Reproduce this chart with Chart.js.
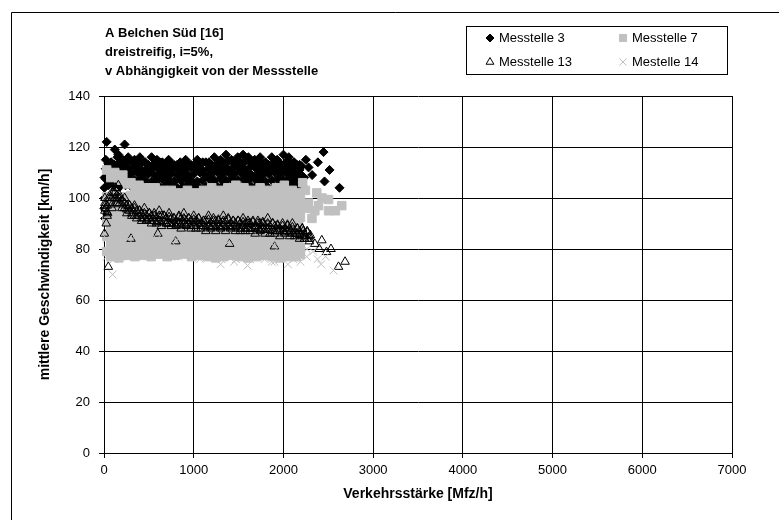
<!DOCTYPE html>
<html>
<head>
<meta charset="utf-8">
<script src="https://cdn.jsdelivr.net/npm/chart.js@4/dist/chart.umd.min.js"></script>
<style>
  html, body { margin: 0; padding: 0; background: #fff; }
  #wrap { position: relative; width: 779px; height: 520px; }
</style>
</head>
<body>
<div id="wrap"><canvas id="chart" width="779" height="520"></canvas></div>
<script>
// tick values
var xTicks = [0, 1000, 2000, 3000, 4000, 5000, 6000, 7000];
var yTicks = [0, 20, 40, 60, 80, 100, 120, 140];

var titleLines = ['A Belchen Süd [16]', 'dreistreifig, i=5%,', 'v Abhängigkeit von der Messstelle'];
var seriesNames = ['Messtelle 3', 'Messtelle 7', 'Messtelle 13', 'Mestelle 14'];

// Messstelle 3 (black diamonds), dense band ~103..117
var m3ColsA = [20,80,150,210,270,340,400,460,530,590,650,720,780,850,910,970,1040,1100,1170,1230,1300,1360,1420,1490,1550,1610,1680,1740,1800,1870,1930,2000,2060,2120,2180];
var m3ColsB = [50,115,180,240,305,370,430,495,560,620,685,750,815,880,940,1005,1070,1135,1200,1265,1330,1390,1455,1520,1580,1645,1710,1770,1835,1900,1965,2030,2090,2150,2200];
var m3RowsA = [
  [115,114,116,115,116,115,116,114,116,115,114,115,113,114,115,113,115,114,114,116,115,117,115,116,117,116,115,116,114,116,115,117,116,114,113],
  [111.5,111.5,112,111.5,111.5,112,111.5,111,111.5,112,111.5,111,111.5,111,111.5,112,111.5,111,111.5,112,111.5,112,111.5,112,112,111.5,112,111.5,111,112,111.5,112,111.5,111,111],
  [107.5,107,107.5,107,107.5,107,107.5,107,106.5,107,107.5,107,106.5,107,107.5,107,106.5,107,107.5,107,107.5,107,107.5,107,107.5,107,107.5,107,106.5,107,107.5,107,107.5,107,107.5]
];
var m3RowsB = [
  [113.5,113,114,113.5,114,113.5,114,113,113.5,114,113,113.5,113,113.5,113.5,113,113.5,114,113,113.5,114,114.5,113.5,114,114.5,113.5,114,113.5,113,114,113.5,114,113.5,113,112.5],
  [109.5,109,109.5,109,109.5,110,109,109.5,109,109.5,109,109.5,109,109.5,109,109.5,110,109,109.5,110,109.5,110,109.5,110,109.5,109,109.5,109,109.5,110,109.5,110,109.5,109,109],
  [105,105,104.5,105,104.5,105,104.5,105,104,104.5,105,104.5,104,104.5,105,104.5,104,104.5,105,104.5,105,104.5,105,104.5,105,104.5,105,104.5,104,104.5,105,104.5,105,104.5,105]
];
var m3ExtraX = [5,8,3,12,6,30,230,160,120,2250,2280,2384,2447,2514,2458,2625,2320,2230];
var m3ExtraY = [104,100,96,92,108,122,121,117,119,115,112,114,118,111,106.5,104,109,108];

// Messstelle 7 (grey squares), solid cloud ~77..112
var m7ColsA = [30,120,210,300,390,480,570,660,750,840,930,1020,1110,1200,1290,1380,1470,1560,1650,1740,1830,1920,2010,2100,2170];
var m7ColsB = [75,165,255,345,435,525,615,705,795,885,975,1065,1155,1245,1335,1425,1515,1605,1695,1785,1875,1965,2055,2145,2190];
var m7RowsA = [
  [111,110,109,106,105,104,104,103,103,102,103,102,103,104,103,104,105,104,103,104,103,104,105,103,102],
  [100.5,101,100.5,101,100.5,101,100.5,100,100.5,100,100,100,100,100.5,100.5,101,100.5,101,100.5,101,100.5,101,100.5,100,99.5],
  [97,97,96.5,97,96.5,97,96.5,97,96.5,97,96.5,97,96.5,97,96.5,97,96.5,97,96.5,97,96.5,96.5,96,96,95.5],
  [91,91,90.5,91,90.5,91,90.5,91,90.5,91,90.5,91,90.5,91,90.5,91,90.5,91,90.5,91,90.5,90.5,90,90,89.5],
  [85,85,84.5,85,84.5,85,84.5,85,84.5,85,84.5,85,84.5,85,84.5,85,84.5,85,84.5,85,84.5,84.5,84,84,83.5],
  [79,79,79.5,79,79.5,79,79.5,79,79.5,79,79.5,79,79.5,79,79.5,79,79.5,79,79.5,79,79.5,79,79,79,79]
];
var m7RowsB = [
  [108,107,105.5,103.5,103,102.5,102.5,102,101.5,101,101.5,101,101.5,102,101.5,102,102.5,102,101.5,102,101.5,102,102.5,101.5,101],
  [99,99,98.5,99,98.5,99,98.5,99,98.5,98.5,98.5,98.5,98.5,99,98.5,99,98.5,99,98.5,99,98.5,99,98.5,98,97.5],
  [94,94,93.5,94,93.5,94,93.5,94,93.5,94,93.5,94,93.5,94,93.5,94,93.5,94,93.5,94,93.5,93.5,93,93,92.5],
  [88,88,87.5,88,87.5,88,87.5,88,87.5,88,87.5,88,87.5,88,87.5,88,87.5,88,87.5,88,87.5,87.5,87,87,86.5],
  [82,82,81.5,82,81.5,82,81.5,82,81.5,82,81.5,82,81.5,82,81.5,82,81.5,82,81.5,82,81.5,81.5,81,81,80.5],
  [77,76.5,77.5,77,77.5,77,78,77,77.5,78,77,77.5,77,76.5,77,77.5,77,76.5,77,77.5,77,76.5,77,77,78]
];
var m7TailX = [2245,2318,2372,2392,2503,2503,2650,2280,2350,2430,2580,2250,2215];
var m7TailY = [103,92,102,97,99.4,95,97,98,95,100,95,96,106];

// Messstelle 13 (triangles), dark band falling from ~101 to ~85
var m13ColsA = [10,65,120,175,230,285,340,395,450,505,560,615,670,725,780,835,890,945,1000,1055,1110,1165,1220,1275,1330,1385,1440,1495,1550,1605,1660,1715,1770,1825,1880,1935,1990,2045,2100,2155,2210,2265];
var m13ColsB = [35,90,145,200,255,310,365,420,475,530,585,640,695,750,805,860,915,970,1025,1080,1135,1190,1245,1300,1355,1410,1465,1520,1575,1630,1685,1740,1795,1850,1905,1960,2015,2070,2125,2180,2235,2290];
var m13RowsA = [
  [98,101,104,101,100,97,97,95,96,94,94,95,93,94,92,93,94,92,93,92,91,93,92,91,93,92,91,91,92,90,91,91,90,92,90,89,90,89,90,88,88,87],
  [97,100,102,100,98,97,96,95,94,94,93,93,93,92.5,92,92.5,92,92,91.5,92,91,91.5,91,91.5,91,91.5,91,91,90.5,91,90.5,90,90.5,90,90,89.5,89,89.5,88.5,88,88,86.5],
  [95,98,100,98,96,95,93,93,92,92,91,91,91,90,90,90,90,90,89,90,89,89,89,89,89,89,89,88,89,88,88,88,88,88,87,87,87,87,86,86,85,84]
];
var m13RowsB = [
  [97,100,101,99,97,96,95,94,93,93,92,93,92,92,91,92,91,91,91,90,91,90,91,90,91,90,90,90,90,90,89,90,89,89,89,88,88,88,87,87,86,85],
  [94.5,97.5,99.5,97.5,95.5,94,93,92,91.5,91,90.5,90.5,90,90,89.5,89.5,89.5,89,89,89,88.5,88.5,88.5,88.5,88.5,88.5,88.5,88,88,88,88,87.5,87.5,87.5,87,87,86.5,86.5,86,85.5,85,84],
  [93,96,98,96,94,93,92,91,91,90,90,89,90,89,89,88,89,88,88,88,87,88,87,88,87,88,87,87,87,87,86,87,86,86,86,85,86,85,85,84,84,83]
];
var m13ExtraX = [130,160,100,10,15,25,5,40,300,800,1400,1900,600,2300,2220,2428,2480,2614,2687,48,2350,2400,2530];
var m13ExtraY = [104,105,102,100,96,90,86,94,84,83,82,81,86,85.4,87,83.4,78.8,73,75,73,82,80,80];

// Mestelle 14 (grey crosses), lower edge of the cloud
var m14Cols = [30,110,190,270,350,430,510,590,670,750,830,910,990,1070,1150,1230,1310,1390,1470,1550,1630,1710,1790,1870,1950,2030,2110,2190,2260];
var m14Low = [77,76,78,77,79,78,79,78,79,78,77,78,77,76,77,78,76,77,76,77,76,77,76,75,76,77,76,75,77];
var m14High = [84,83,85,84,85,84,83,84,85,83,84,83,84,83,84,83,82,83,84,82,83,82,83,82,81,82,81,80,80];
var m14ExtraX = [96,2558,2470,2380,2330,2420,1300,1600,2050,1900,1450,700];
var m14ExtraY = [70,71.6,77,76,79,74,74,73.5,74,75,75,77];

function pts(xs, ys) {
  return xs.map(function (x, i) { return { x: x, y: ys[i] }; });
}
function gridPts(colsA, rowsA, colsB, rowsB, exX, exY) {
  var out = [];
  rowsA.forEach(function (r) { out = out.concat(pts(colsA, r)); });
  rowsB.forEach(function (r) { out = out.concat(pts(colsB, r)); });
  return out.concat(pts(exX, exY));
}

var m3Points = gridPts(m3ColsA, m3RowsA, m3ColsB, m3RowsB, m3ExtraX, m3ExtraY);
var m7Points = gridPts(m7ColsA, m7RowsA, m7ColsB, m7RowsB, m7TailX, m7TailY);
var m13Points = gridPts(m13ColsA, m13RowsA, m13ColsB, m13RowsB, m13ExtraX, m13ExtraY);
var m14Points = gridPts(m14Cols, [m14Low, m14High], [], [], m14ExtraX, m14ExtraY);

var GREY = '#c0c0c0';
var FONT = '"Liberation Sans", Arial, sans-serif';

// title, legend box and outer frame, drawn straight on the canvas
var decor = {
  id: 'decor',
  beforeDraw: function (chart) {
    var ctx = chart.ctx;
    ctx.save();
    ctx.fillStyle = '#fff';
    ctx.fillRect(0, 0, chart.width, chart.height);
    ctx.restore();
  },
  afterDraw: function (chart) {
    var ctx = chart.ctx;
    ctx.save();
    // outer frame (runs off the right and bottom edge)
    ctx.strokeStyle = '#000';
    ctx.lineWidth = 1;
    ctx.beginPath();
    ctx.moveTo(11.5, chart.height);
    ctx.lineTo(11.5, 12.5);
    ctx.lineTo(chart.width, 12.5);
    ctx.stroke();

    // title
    ctx.fillStyle = '#000';
    ctx.font = 'bold 13px ' + FONT;
    ctx.textBaseline = 'middle';
    ctx.textAlign = 'left';
    titleLines.forEach(function (t, i) {
      ctx.fillText(t, 105, 33 + i * 19);
    });

    // legend box
    ctx.fillStyle = '#fff';
    ctx.fillRect(466.5, 26.5, 261, 48);
    ctx.strokeStyle = '#000';
    ctx.strokeRect(466.5, 26.5, 261, 48);
    ctx.font = '13px ' + FONT;
    var spots = [[490, 38], [623, 38], [490, 62], [623, 62]];
    chart.data.datasets.forEach(function (ds, i) {
      var p = spots[i];
      ctx.fillStyle = ds.backgroundColor;
      ctx.strokeStyle = ds.borderColor;
      ctx.lineWidth = 1;
      Chart.helpers.drawPoint(ctx, {
        pointStyle: ds.pointStyle,
        radius: ds.legendRadius,
        rotation: 0,
        borderWidth: 1
      }, p[0], p[1]);
      ctx.fillStyle = '#000';
      ctx.fillText(ds.label, p[0] + 9, p[1]);
    });
    ctx.restore();
  }
};

var ctx = document.getElementById('chart').getContext('2d');
new Chart(ctx, {
  type: 'scatter',
  data: {
    datasets: [
      {
        label: seriesNames[0], data: m3Points, order: 4,
        pointStyle: 'rectRot', pointRadius: 4.5, legendRadius: 4,
        backgroundColor: '#000', borderColor: '#000', borderWidth: 1, clip: false
      },
      {
        label: seriesNames[1], data: m7Points, order: 3,
        pointStyle: 'rect', pointRadius: 6, legendRadius: 5,
        backgroundColor: GREY, borderColor: GREY, borderWidth: 1, clip: false
      },
      {
        label: seriesNames[2], data: m13Points, order: 2,
        pointStyle: 'triangle', pointRadius: 5, legendRadius: 4.5,
        backgroundColor: 'rgba(0,0,0,0)', borderColor: '#000', borderWidth: 1, clip: false
      },
      {
        label: seriesNames[3], data: m14Points, order: 1,
        pointStyle: 'crossRot', pointRadius: 5.5, legendRadius: 5,
        backgroundColor: GREY, borderColor: GREY, borderWidth: 1, clip: false
      }
    ]
  },
  options: {
    responsive: false,
    animation: false,
    devicePixelRatio: 1,
    layout: { padding: { left: 0, right: 47, top: 96, bottom: 5 } },
    plugins: {
      legend: { display: false },
      title: { display: false },
      tooltip: { enabled: false }
    },
    scales: {
      x: {
        type: 'linear',
        min: xTicks[0], max: xTicks[xTicks.length - 1],
        afterBuildTicks: function (s) { s.ticks = xTicks.map(function (v) { return { value: v }; }); },
        afterFit: function (s) { s.height = 62; },
        ticks: {
          color: '#000', font: { family: FONT, size: 13 }, padding: 5, maxRotation: 0,
          callback: function (v) { return String(v); }
        },
        grid: { color: '#000', lineWidth: 1, tickLength: 5, drawTicks: true },
        border: { color: '#000' },
        title: {
          display: true, text: 'Verkehrsstärke [Mfz/h]', color: '#000',
          font: { family: FONT, size: 14, weight: 'bold' }, padding: { top: 0, bottom: 12 }
        }
      },
      y: {
        type: 'linear',
        min: yTicks[0], max: yTicks[yTicks.length - 1],
        afterBuildTicks: function (s) { s.ticks = yTicks.map(function (v) { return { value: v }; }); },
        afterFit: function (s) { s.width = 104; },
        ticks: {
          color: '#000', font: { family: FONT, size: 13 }, padding: 9,
          callback: function (v) { return String(v); }
        },
        grid: { color: '#000', lineWidth: 1, tickLength: 5, drawTicks: true },
        border: { color: '#000' },
        title: {
          display: true, text: 'mittlere Geschwindigkeit [km/h]', color: '#000',
          font: { family: FONT, size: 14, weight: 'bold' }, padding: { top: 37, bottom: 0 }
        }
      }
    }
  },
  plugins: [decor]
});
</script>
</body>
</html>
